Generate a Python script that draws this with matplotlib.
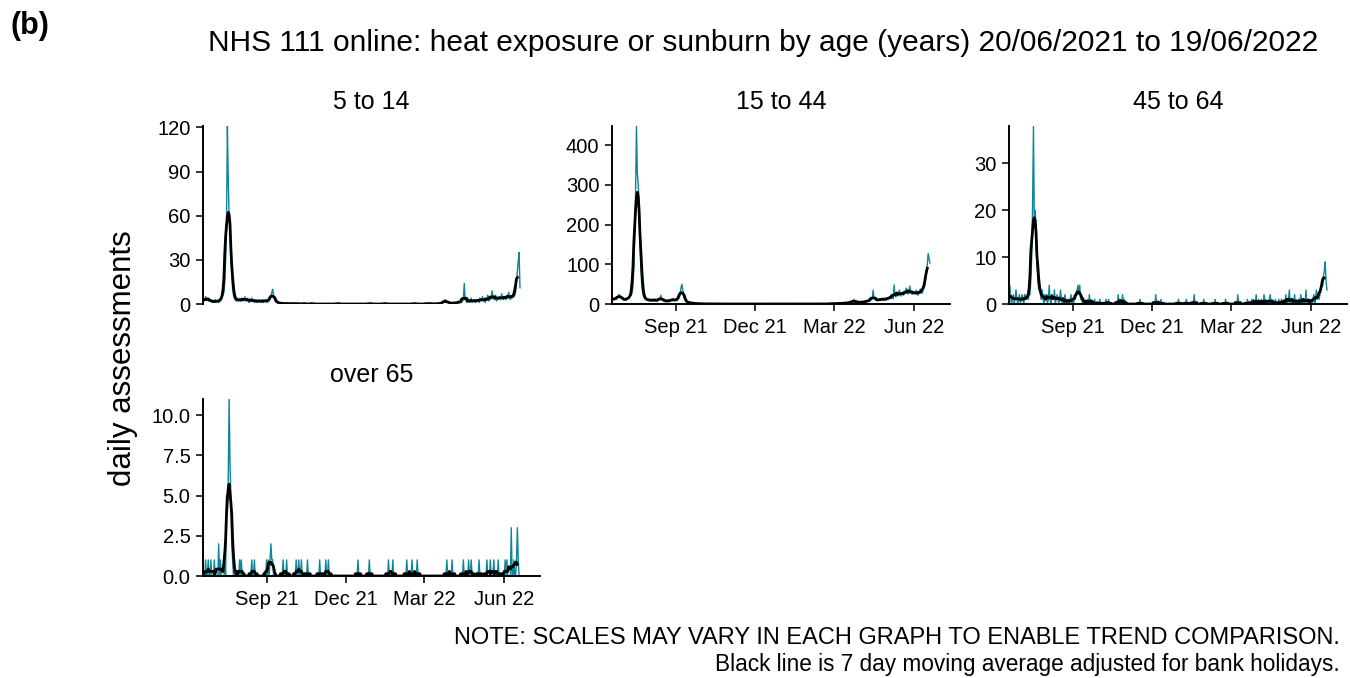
import numpy as np
import pandas as pd
import matplotlib
matplotlib.use("Agg")
import matplotlib.pyplot as plt

plt.rcParams['font.family'] = ['Liberation Sans', 'DejaVu Sans']

start_date = "2021-06-20"
end_date = "2022-06-19"
axis_end = "2022-07-12"

panel_titles = ["5 to 14", "15 to 44", "45 to 64", "over 65"]

# daily assessments, 20 Jun 2021 .. 19 Jun 2022 (one row per month)
age_5_14 = [
    1, 2, 3, 5, 4, 3, 2, 4, 3, 2, 1,
    2, 1, 2, 3, 1, 2, 2, 1, 3, 2, 3, 5, 6, 8, 15, 30, 55, 121, 85, 60, 50, 35, 20, 10, 6, 4, 3, 2, 4, 3, 2,
    3, 2, 4, 3, 2, 3, 5, 2, 3, 4, 2, 1, 3, 2, 4, 3, 2, 1, 2, 3, 1, 2, 3, 2, 1, 2, 3, 1, 2, 2, 3,
    2, 1, 3, 2, 3, 5, 8, 10, 6, 3, 2, 1, 2, 1, 0, 1, 1, 0, 0, 1, 0, 0, 1, 0, 0, 0, 1, 0, 0, 0,
    0, 1, 0, 0, 0, 0, 1, 0, 0, 0, 0, 0, 0, 1, 0, 0, 0, 0, 0, 0, 0, 0, 1, 0, 0, 0, 0, 0, 0, 0, 0,
    0, 0, 0, 0, 0, 0, 0, 0, 0, 0, 0, 0, 0, 0, 0, 0, 0, 0, 0, 0, 0, 1, 0, 0, 0, 0, 0, 0, 0, 0,
    0, 0, 0, 0, 0, 0, 0, 0, 0, 0, 0, 0, 0, 0, 0, 0, 0, 0, 0, 0, 0, 0, 0, 0, 0, 0, 0, 0, 1, 0, 0,
    0, 0, 0, 0, 0, 0, 0, 0, 0, 0, 0, 0, 0, 0, 1, 0, 0, 0, 0, 0, 0, 0, 0, 0, 0, 0, 0, 0, 0, 0, 0,
    0, 0, 0, 0, 0, 0, 0, 0, 0, 0, 0, 0, 0, 0, 0, 0, 0, 1, 0, 0, 0, 0, 0, 0, 0, 0, 0, 0,
    0, 0, 0, 1, 0, 0, 0, 0, 1, 0, 0, 0, 0, 0, 0, 1, 0, 0, 0, 0, 1, 1, 2, 1, 3, 2, 2, 1, 1, 0, 1,
    1, 0, 1, 0, 1, 1, 0, 1, 2, 1, 1, 2, 1, 2, 3, 14, 3, 2, 1, 2, 3, 1, 2, 4, 1, 2, 3, 2, 1, 3,
    2, 3, 1, 4, 2, 3, 5, 2, 3, 1, 4, 3, 6, 2, 4, 3, 5, 9, 4, 3, 5, 6, 2, 4, 3, 5, 4, 3, 7, 4, 3,
    4, 5, 3, 6, 4, 8, 5, 3, 4, 5, 6, 5, 6, 8, 15, 22, 29, 35, 11,
]

age_15_44 = [
    12, 14, 10, 13, 15, 11, 16, 20, 24, 22, 18,
    15, 12, 10, 14, 11, 9, 13, 12, 15, 18, 20, 22, 28, 45, 90, 170, 280, 448, 330, 300, 260, 180, 90, 50, 30, 20, 15, 12, 14, 10, 11,
    10, 8, 12, 9, 7, 11, 10, 13, 8, 9, 6, 10, 12, 15, 22, 14, 9, 7, 8, 6, 10, 9, 7, 5, 8, 10, 12, 9, 14, 11, 8,
    10, 8, 12, 14, 15, 25, 40, 50, 35, 20, 12, 8, 6, 5, 4, 3, 4, 2, 3, 2, 1, 2, 1, 1, 2, 1, 0, 1, 1, 0,
    1, 0, 1, 0, 0, 1, 0, 0, 1, 0, 0, 0, 1, 0, 0, 0, 0, 1, 0, 0, 0, 0, 0, 1, 0, 0, 0, 0, 0, 0, 0,
    0, 0, 0, 0, 1, 0, 0, 0, 0, 0, 0, 0, 0, 0, 0, 0, 0, 0, 0, 0, 0, 0, 0, 0, 0, 0, 1, 0, 0, 0,
    0, 0, 0, 0, 0, 0, 0, 0, 0, 0, 0, 0, 0, 0, 0, 0, 0, 0, 0, 0, 0, 0, 0, 0, 0, 0, 0, 0, 0, 0, 0,
    0, 0, 0, 0, 0, 0, 0, 0, 0, 0, 1, 0, 0, 0, 0, 0, 0, 0, 0, 0, 0, 0, 0, 0, 0, 0, 0, 0, 1, 0, 0,
    0, 0, 0, 0, 0, 1, 0, 0, 0, 0, 0, 0, 1, 0, 0, 0, 0, 0, 1, 0, 0, 1, 0, 0, 1, 0, 2, 1,
    1, 0, 2, 1, 1, 2, 0, 1, 3, 2, 1, 2, 3, 1, 2, 4, 2, 3, 5, 4, 3, 6, 8, 12, 7, 5, 4, 6, 3, 5, 4,
    5, 4, 6, 3, 7, 5, 6, 8, 9, 7, 10, 8, 12, 15, 35, 14, 12, 10, 8, 11, 9, 12, 10, 14, 11, 13, 9, 15, 12, 10,
    14, 12, 16, 18, 15, 20, 17, 13, 48, 22, 18, 25, 20, 28, 35, 24, 20, 26, 30, 22, 27, 33, 40, 28, 25, 30, 45, 32, 26, 24, 28,
    30, 26, 35, 28, 22, 25, 30, 38, 32, 27, 35, 40, 45, 60, 80, 100, 127, 115, 103,
]

age_45_64 = [
    2, 4, 1, 0, 1, 2, 0, 1, 3, 1, 0,
    1, 2, 0, 1, 2, 1, 0, 2, 1, 1, 2, 1, 2, 2, 5, 10, 21, 38, 17, 20, 15, 8, 5, 3, 4, 2, 1, 3, 1, 0, 2,
    1, 2, 0, 1, 4, 1, 0, 2, 1, 1, 3, 0, 1, 2, 1, 0, 1, 3, 1, 0, 1, 0, 2, 1, 0, 0, 1, 0, 1, 2, 0,
    1, 0, 2, 1, 2, 3, 4, 2, 4, 1, 2, 0, 1, 0, 1, 0, 0, 1, 0, 2, 0, 1, 0, 0, 0, 1, 0, 0, 0, 0,
    0, 1, 0, 0, 0, 0, 0, 0, 1, 0, 0, 1, 0, 0, 0, 0, 0, 0, 0, 0, 0, 0, 2, 0, 1, 0, 0, 2, 0, 1, 0,
    0, 0, 0, 0, 0, 0, 0, 0, 0, 0, 0, 0, 0, 0, 0, 0, 1, 0, 0, 0, 0, 0, 0, 0, 0, 0, 0, 0, 0, 0,
    0, 0, 0, 0, 2, 0, 0, 0, 0, 0, 1, 0, 0, 0, 0, 0, 0, 0, 0, 0, 0, 0, 0, 0, 0, 0, 0, 0, 0, 0, 1,
    0, 0, 0, 0, 0, 0, 0, 0, 1, 0, 0, 0, 0, 0, 0, 0, 0, 2, 0, 0, 0, 0, 0, 0, 0, 0, 0, 0, 1, 0, 0,
    0, 0, 0, 0, 0, 0, 0, 0, 0, 0, 1, 0, 0, 0, 0, 0, 0, 0, 0, 0, 0, 0, 1, 0, 0, 0, 0, 0,
    0, 0, 0, 0, 0, 0, 0, 0, 2, 0, 0, 0, 0, 0, 0, 0, 0, 0, 0, 1, 0, 0, 0, 0, 1, 0, 1, 0, 0, 2, 0,
    0, 1, 0, 0, 1, 0, 0, 2, 0, 1, 0, 0, 0, 1, 2, 0, 1, 0, 0, 0, 1, 0, 0, 0, 1, 0, 0, 1, 0, 0,
    1, 0, 2, 0, 0, 1, 3, 0, 1, 0, 1, 0, 2, 0, 1, 0, 0, 1, 0, 2, 1, 0, 0, 1, 0, 3, 0, 1, 0, 0, 1,
    1, 0, 1, 2, 0, 1, 3, 1, 2, 1, 2, 3, 5, 4, 6, 7, 9, 5, 3,
]

age_65_plus = [
    0, 0, 0, 1, 0, 0, 1, 0, 0, 1, 0,
    0, 0, 1, 0, 0, 0, 0, 2, 0, 1, 0, 0, 0, 0, 1, 0, 5, 4, 6, 11, 7, 5, 2, 1, 0, 1, 0, 0, 0, 0, 0,
    1, 0, 1, 0, 0, 0, 0, 0, 0, 0, 0, 0, 0, 0, 1, 0, 0, 1, 0, 0, 0, 0, 0, 0, 0, 0, 0, 0, 0, 0, 0,
    1, 0, 1, 0, 1, 2, 1, 1, 0, 0, 0, 0, 0, 0, 0, 0, 0, 0, 0, 1, 0, 0, 0, 1, 0, 0, 0, 0, 0, 0,
    0, 0, 0, 0, 1, 0, 0, 1, 0, 0, 1, 0, 0, 0, 0, 0, 0, 1, 0, 0, 0, 0, 0, 0, 0, 0, 0, 0, 0, 0, 0,
    1, 0, 0, 0, 0, 0, 0, 1, 0, 0, 1, 0, 0, 0, 0, 0, 0, 0, 0, 0, 0, 0, 0, 0, 0, 0, 0, 0, 0, 0,
    0, 0, 0, 0, 0, 0, 0, 0, 0, 0, 0, 0, 0, 0, 1, 0, 0, 0, 0, 0, 0, 0, 0, 0, 0, 0, 0, 1, 0, 0, 0,
    0, 0, 0, 0, 0, 0, 0, 0, 0, 0, 0, 0, 0, 0, 0, 0, 0, 0, 1, 0, 0, 0, 0, 1, 0, 0, 0, 0, 0, 0, 0,
    0, 0, 0, 0, 0, 0, 0, 0, 1, 0, 0, 0, 0, 0, 1, 0, 0, 0, 0, 0, 1, 0, 0, 0, 0, 0, 0, 0,
    0, 0, 0, 0, 0, 0, 0, 0, 0, 0, 0, 0, 0, 0, 0, 0, 0, 0, 0, 0, 0, 0, 0, 0, 0, 0, 1, 0, 0, 0, 0,
    0, 1, 0, 0, 0, 0, 0, 0, 0, 0, 0, 0, 0, 0, 1, 0, 0, 0, 0, 0, 1, 0, 0, 1, 0, 0, 0, 0, 0, 0,
    0, 0, 1, 0, 0, 0, 0, 0, 0, 0, 0, 1, 0, 0, 0, 1, 0, 0, 0, 1, 0, 0, 0, 0, 1, 0, 0, 0, 0, 0, 0,
    0, 1, 0, 1, 0, 0, 0, 0, 3, 0, 0, 1, 0, 0, 1, 3, 1, 0, 0,
]

y_ticks_5_14 = [0, 30, 60, 90, 120]
y_ticks_15_44 = [0, 100, 200, 300, 400]
y_ticks_45_64 = [0, 10, 20, 30]
y_ticks_65_plus = [0.0, 2.5, 5.0, 7.5, 10.0]

x_tick_dates = ["2021-09-01", "2021-12-01", "2022-03-01", "2022-06-01"]
x_tick_labels = ["Sep 21", "Dec 21", "Mar 22", "Jun 22"]

TEAL = "#0e8599"
W, H = 1350, 678


def px_rect(x0, y0, x1, y1):
    return [x0 / W, 1 - y1 / H, (x1 - x0) / W, (y1 - y0) / H]


def draw_panel(fig, rect, values, yticks, title, show_x, fmt="{:g}"):
    dates = pd.date_range(start_date, end_date, freq="D")
    assert len(values) == len(dates)
    s = pd.Series(values, index=dates, dtype=float)
    ma = s.rolling(7, center=True, min_periods=4).mean()
    ma.iloc[-3:] = np.nan

    ax = fig.add_axes(px_rect(*rect))
    ax.plot(s.index, s.values, color=TEAL, lw=1.0)
    ax.plot(ma.index, ma.values, color="black", lw=2.0)

    ax.set_xlim(pd.Timestamp(start_date), pd.Timestamp(axis_end))
    ax.set_ylim(0, s.max())
    ax.set_yticks(yticks)
    ax.set_yticklabels([fmt.format(v) for v in yticks])

    for side in ("top", "right"):
        ax.spines[side].set_visible(False)
    ax.spines["left"].set_linewidth(1.4)
    ax.spines["bottom"].set_linewidth(1.4)
    ax.tick_params(direction="out", length=5, width=1.4, color="#333333",
                   labelsize=14.5, labelcolor="black")
    ax.tick_params(axis="y", pad=4)
    ax.tick_params(axis="x", pad=5)

    if show_x:
        ax.set_xticks(pd.to_datetime(x_tick_dates))
        ax.set_xticklabels(x_tick_labels)
    else:
        ax.spines["bottom"].set_visible(False)
        ax.set_xticks([])

    cx = (rect[0] + rect[2]) / 2
    fig.text(cx / W, 1 - (rect[1] - 24) / H, title, ha="center", va="center", fontsize=18)
    return ax


fig = plt.figure(figsize=(13.5, 6.78), dpi=100)

draw_panel(fig, (203, 126, 540, 304), age_5_14, y_ticks_5_14, panel_titles[0], False)
draw_panel(fig, (612, 126, 950, 304), age_15_44, y_ticks_15_44, panel_titles[1], True)
draw_panel(fig, (1009, 126, 1347, 304), age_45_64, y_ticks_45_64, panel_titles[2], True)
draw_panel(fig, (203, 399, 540, 576), age_65_plus, y_ticks_65_plus, panel_titles[3], True, "{:.1f}")

fig.text(10 / W, 1 - 26 / H, "(b)", fontsize=22, fontweight="bold", ha="left", va="center")
fig.text(763 / W, 1 - 43 / H,
         "NHS 111 online: heat exposure or sunburn by age (years) 20/06/2021 to 19/06/2022",
         fontsize=21.5, ha="center", va="center")
fig.text(123 / W, 1 - 358 / H, "daily assessments", fontsize=22.5, rotation=90,
         ha="center", va="center")
fig.text(1340 / W, 1 - 638 / H,
         "NOTE: SCALES MAY VARY IN EACH GRAPH TO ENABLE TREND COMPARISON.",
         fontsize=17, ha="right", va="center")
fig.text(1340 / W, 1 - 665 / H,
         "Black line is 7 day moving average adjusted for bank holidays.",
         fontsize=16.3, ha="right", va="center")

fig.savefig("out.png", dpi=100, facecolor="white")
